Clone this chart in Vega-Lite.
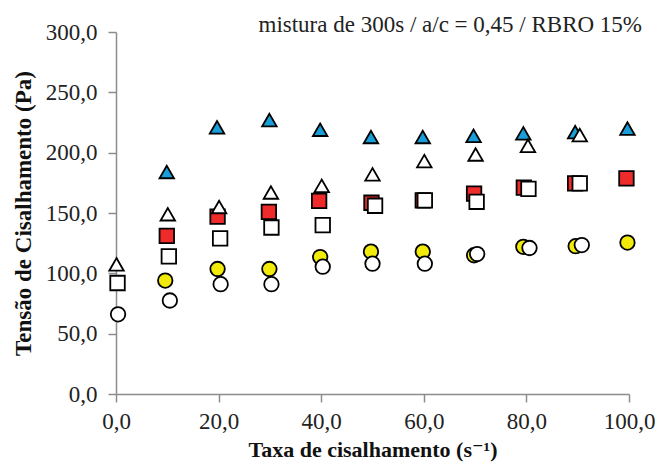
{
  "$schema": "https://vega.github.io/schema/vega-lite/v6.json",
  "width": 513,
  "height": 362,
  "autosize": "none",
  "padding": {"left": 116, "top": 32, "right": 27, "bottom": 71},
  "background": "white",
  "config": {
    "view": {"stroke": null},
    "font": "'Liberation Serif', 'DejaVu Serif', serif",
    "axis": {
      "grid": false,
      "domainColor": "#8c8c8c",
      "domainWidth": 1.5,
      "tickColor": "#8c8c8c",
      "tickWidth": 1.5,
      "tickSize": 8,
      "labelFont": "'Liberation Serif', 'DejaVu Serif', serif",
      "labelFontSize": 23,
      "labelColor": "#222",
      "titleFont": "'Liberation Serif', 'DejaVu Serif', serif",
      "titleFontSize": 23,
      "titleFontWeight": "bold",
      "titleColor": "#111"
    }
  },
  "title": {
    "text": "mistura de 300s / a/c = 0,45 / RBRO 15%",
    "anchor": "end",
    "frame": "group",
    "font": "'Liberation Serif', 'DejaVu Serif', serif",
    "fontSize": 23,
    "fontWeight": "normal",
    "color": "#222",
    "offset": 0,
    "dx": 13,
    "dy": 16
  },
  "data": {
    "values": [
      {"s": "tri_fill", "x": 9.9, "y": 184},
      {"s": "tri_fill", "x": 19.7, "y": 221},
      {"s": "tri_fill", "x": 29.9, "y": 227},
      {"s": "tri_fill", "x": 39.8, "y": 219},
      {"s": "tri_fill", "x": 49.7, "y": 213},
      {"s": "tri_fill", "x": 59.8, "y": 213},
      {"s": "tri_fill", "x": 69.7, "y": 214},
      {"s": "tri_fill", "x": 79.4, "y": 216},
      {"s": "tri_fill", "x": 89.5, "y": 217},
      {"s": "tri_fill", "x": 99.7, "y": 220},
      {"s": "sq_fill", "x": 9.9, "y": 131},
      {"s": "sq_fill", "x": 19.8, "y": 147},
      {"s": "sq_fill", "x": 29.8, "y": 151},
      {"s": "sq_fill", "x": 39.6, "y": 160},
      {"s": "sq_fill", "x": 49.8, "y": 158.5},
      {"s": "sq_fill", "x": 59.8, "y": 160.5},
      {"s": "sq_fill", "x": 69.8, "y": 166},
      {"s": "sq_fill", "x": 79.5, "y": 171},
      {"s": "sq_fill", "x": 89.5, "y": 174.5},
      {"s": "sq_fill", "x": 99.5, "y": 178.7},
      {"s": "circ_fill", "x": 9.6, "y": 94},
      {"s": "circ_fill", "x": 19.8, "y": 103.6},
      {"s": "circ_fill", "x": 29.9, "y": 103.6},
      {"s": "circ_fill", "x": 39.8, "y": 113.5},
      {"s": "circ_fill", "x": 49.7, "y": 118},
      {"s": "circ_fill", "x": 59.8, "y": 118},
      {"s": "circ_fill", "x": 69.8, "y": 115},
      {"s": "circ_fill", "x": 79.4, "y": 122},
      {"s": "circ_fill", "x": 89.6, "y": 122.5},
      {"s": "circ_fill", "x": 99.7, "y": 125.5},
      {"s": "tri_open", "x": 0.1, "y": 107.4},
      {"s": "tri_open", "x": 10.1, "y": 149},
      {"s": "tri_open", "x": 20.1, "y": 155},
      {"s": "tri_open", "x": 30.2, "y": 167},
      {"s": "tri_open", "x": 40.1, "y": 172.5},
      {"s": "tri_open", "x": 50, "y": 182},
      {"s": "tri_open", "x": 60.1, "y": 193},
      {"s": "tri_open", "x": 70.1, "y": 198.5},
      {"s": "tri_open", "x": 80.3, "y": 205.7},
      {"s": "tri_open", "x": 90.4, "y": 214.6},
      {"s": "sq_open", "x": 0.3, "y": 92},
      {"s": "sq_open", "x": 10.3, "y": 114},
      {"s": "sq_open", "x": 20.3, "y": 129},
      {"s": "sq_open", "x": 30.3, "y": 138},
      {"s": "sq_open", "x": 40.3, "y": 140},
      {"s": "sq_open", "x": 50.5, "y": 156},
      {"s": "sq_open", "x": 60.2, "y": 160.5},
      {"s": "sq_open", "x": 70.3, "y": 159.3},
      {"s": "sq_open", "x": 80.4, "y": 170},
      {"s": "sq_open", "x": 90.4, "y": 174.5},
      {"s": "circ_open", "x": 0.4, "y": 66},
      {"s": "circ_open", "x": 10.5, "y": 77.5},
      {"s": "circ_open", "x": 20.4, "y": 91},
      {"s": "circ_open", "x": 30.3, "y": 91},
      {"s": "circ_open", "x": 40.3, "y": 105.5},
      {"s": "circ_open", "x": 50, "y": 108},
      {"s": "circ_open", "x": 60.2, "y": 108},
      {"s": "circ_open", "x": 70.4, "y": 116},
      {"s": "circ_open", "x": 80.6, "y": 121},
      {"s": "circ_open", "x": 90.8, "y": 123.4}
    ]
  },
  "mark": {"type": "point", "filled": true, "stroke": "#000", "strokeWidth": 1.8, "opacity": 1, "size": 210},
  "encoding": {
    "x": {
      "field": "x", "type": "quantitative",
      "scale": {"domain": [0, 100], "nice": false, "zero": false},
      "axis": {"values": [0, 20, 40, 60, 80, 100], "labelPadding": 8, "titlePadding": 6,
               "titleFontSize": 22,
               "labelExpr": "replace(format(datum.value, '.1f'), '.', ',')",
               "labelFlush": false},
      "title": "Taxa de cisalhamento (s⁻¹)"
    },
    "y": {
      "field": "y", "type": "quantitative",
      "scale": {"domain": [0, 300], "nice": false},
      "axis": {"values": [0, 50, 100, 150, 200, 250, 300], "labelPadding": 11, "titlePadding": 10,
               "labelExpr": "replace(format(datum.value, '.1f'), '.', ',')"},
      "title": "Tensão de Cisalhamento (Pa)"
    },
    "shape": {
      "field": "s", "type": "nominal", "legend": null,
      "scale": {
        "domain": ["tri_fill", "sq_fill", "circ_fill", "tri_open", "sq_open", "circ_open"],
        "range": ["triangle-up", "square", "circle", "triangle-up", "square", "circle"]
      }
    },
    "fill": {
      "field": "s", "type": "nominal", "legend": null,
      "scale": {
        "domain": ["tri_fill", "sq_fill", "circ_fill", "tri_open", "sq_open", "circ_open"],
        "range": ["#1a9ed9", "#ee2a2a", "#f2ea0a", "#ffffff", "#ffffff", "#ffffff"]
      }
    },
    "order": {"field": "s", "sort": "ascending"}
  }
}
